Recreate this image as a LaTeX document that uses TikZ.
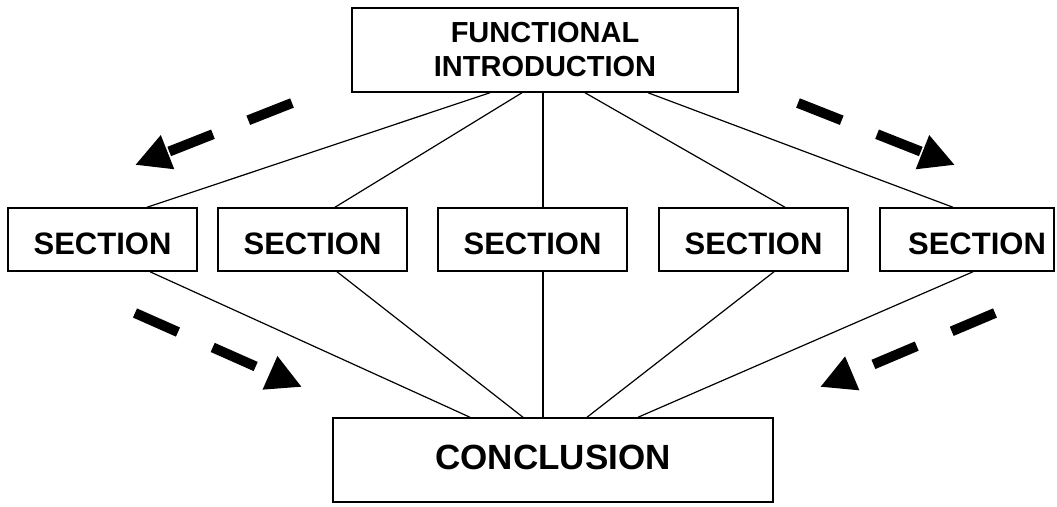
\documentclass[tikz,border=0pt]{standalone}
\usepackage{fontspec}
\setmainfont{Liberation Sans}
\usetikzlibrary{arrows.meta,calc,positioning}
\tikzset{
  box/.style={draw, line width=1.5pt, inner sep=0pt},
  secbox/.style={box, minimum width=189pt, minimum height=63pt, text height=31pt, font=\fontsize{31}{34}\selectfont\bfseries},
  link/.style={line width=1.2pt},
  bigarrow/.style={line width=10pt, dash pattern=on 47pt off 38pt, -{Triangle[length=35pt,width=34pt]}}
}

\begin{document}
\begin{tikzpicture}[x=1pt,y=-1pt]
\useasboundingbox (0,0) rectangle (1057,506);
% boxes
\node[box, minimum width=386pt, minimum height=84pt, align=center, font=\fontsize{29}{34}\selectfont\bfseries] (intro) at (545,50) {FUNCTIONAL\\INTRODUCTION};
\node[secbox] (s1) at (102.5,239.5) {SECTION};
\node[secbox] (s2) at (312.5,239.5) {SECTION};
\node[secbox] (s3) at (532.5,239.5) {SECTION};
\node[secbox] (s4) at (753.5,239.5) {SECTION};
\node[secbox, minimum width=174pt] (s5) at (967,239.5) {\hspace*{20pt}SECTION};
\node[box, minimum width=440pt, minimum height=84pt, text depth=6pt, font=\fontsize{35}{40}\selectfont\bfseries] (concl) at (553,460) {CONCLUSION};
% lines intro -> sections
\draw[link] ([xshift=-55pt]intro.south) -- ([xshift=44.5pt]s1.north);
\draw[link] ([xshift=-23pt]intro.south) -- ([xshift=22.5pt]s2.north);
\draw[link] ([xshift=-2pt]intro.south) -- ([xshift=10.5pt]s3.north);
\draw[link] ([xshift=40pt]intro.south) -- ([xshift=31.5pt]s4.north);
\draw[link] ([xshift=103pt]intro.south) -- ([xshift=-14pt]s5.north);
% lines sections -> conclusion
\draw[link] ([xshift=47.5pt]s1.south) -- ([xshift=-83pt]concl.north);
\draw[link] ([xshift=24.5pt]s2.south) -- ([xshift=-30pt]concl.north);
\draw[link] ([xshift=10.5pt]s3.south) -- ([xshift=-10pt]concl.north);
\draw[link] ([xshift=20.5pt]s4.south) -- ([xshift=34pt]concl.north);
\draw[link] ([xshift=6pt]s5.south) -- ([xshift=85pt]concl.north);
% dashed arrows
\coordinate (ulA) at (292,103); \coordinate (ulB) at (135,165);
\coordinate (urA) at (798,103); \coordinate (urB) at (955,165);
\coordinate (llA) at (135,313); \coordinate (llB) at (302,387);
\coordinate (lrA) at (995,313); \coordinate (lrB) at (820,387);
\draw[bigarrow] (ulA) -- (ulB);
\draw[bigarrow] (urA) -- (urB);
\draw[bigarrow] (llA) -- (llB);
\draw[bigarrow] (lrA) -- (lrB);
\end{tikzpicture}
\end{document}
